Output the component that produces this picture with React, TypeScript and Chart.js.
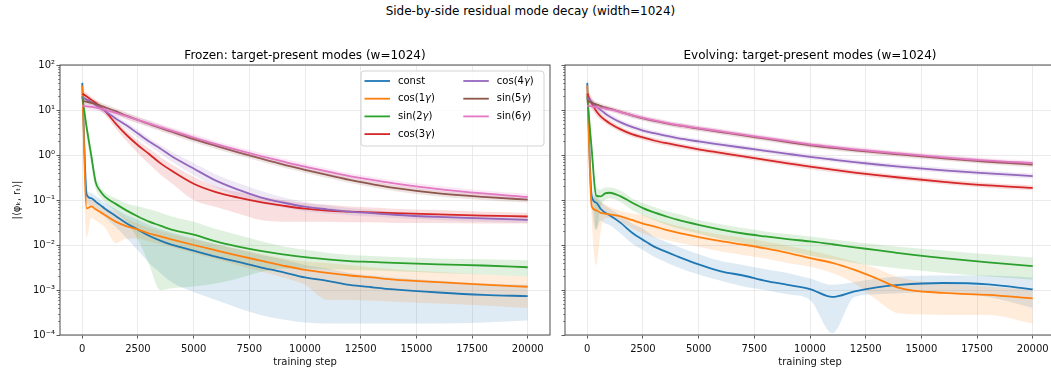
import React, { useEffect, useRef } from 'react';
import { Chart, registerables } from 'chart.js';

Chart.register(...registerables);

const FONT = "'DejaVu Sans', 'Liberation Sans', sans-serif";

// ---------- shared axes / categories ----------
const STEPS = [0, 200, 400, 600, 800, 1000, 1500, 2000, 2500, 3000, 3500, 4000, 5000, 6000, 7000, 8000, 9000, 10000, 11000, 12000, 13000, 14000, 16000, 18000, 20000];
const X_TICKS = [0, 2500, 5000, 7500, 10000, 12500, 15000, 17500, 20000];
const Y_TICKS = [1e-4, 1e-3, 1e-2, 1e-1, 1e0, 1e1, 1e2];
const Y_TICK_LABELS = ['10⁻⁴', '10⁻³', '10⁻²', '10⁻¹', '10⁰', '10¹', '10²'];
const Y_MINOR_MULTIPLIERS = [2, 3, 4, 5, 6, 7, 8, 9];
const SERIES_NAMES = ['const', 'cos(1γ)', 'sin(2γ)', 'cos(3γ)', 'cos(4γ)', 'sin(5γ)', 'sin(6γ)'];
const SERIES_COLORS = ['#1f77b4', '#ff7f0e', '#2ca02c', '#d62728', '#9467bd', '#8c564b', '#e377c2'];
const SUPTITLE = 'Side-by-side residual mode decay (width=1024)';
const FROZEN_TITLE = 'Frozen: target-present modes (w=1024)';
const EVOLVING_TITLE = 'Evolving: target-present modes (w=1024)';
const X_LABEL = 'training step';
const Y_LABEL = '|⟨φₖ, rₜ⟩|';

// ---------- Frozen panel ----------
const FROZEN_CONST = [40, 0.13, 0.11, 0.092, 0.078, 0.065, 0.044, 0.03, 0.022, 0.016, 0.0125, 0.0102, 0.0075, 0.0055, 0.0042, 0.0032, 0.0025, 0.0019, 0.0016, 0.0013, 0.00115, 0.00103, 0.00088, 0.00078, 0.00073];
const FROZEN_CONST_LO = [25, 0.09, 0.075, 0.062, 0.052, 0.042, 0.025, 0.014, 0.0075, 0.004, 0.0024, 0.0015, 0.0009, 0.0006, 0.0004, 0.00028, 0.00022, 0.00019, 0.00018, 0.00018, 0.00018, 0.00018, 0.00018, 0.00019, 0.00021];
const FROZEN_CONST_HI = [55, 0.17, 0.145, 0.122, 0.104, 0.088, 0.063, 0.046, 0.0365, 0.028, 0.0226, 0.0189, 0.0141, 0.0104, 0.008, 0.0061, 0.0048, 0.0036, 0.003, 0.0024, 0.0021, 0.0019, 0.0016, 0.0014, 0.0013];

const FROZEN_COS1 = [35, 0.065, 0.072, 0.062, 0.054, 0.047, 0.033, 0.026, 0.022, 0.018, 0.0155, 0.0133, 0.01, 0.0076, 0.0058, 0.0045, 0.0035, 0.0028, 0.0024, 0.0021, 0.0019, 0.0017, 0.0015, 0.00132, 0.00118];
const FROZEN_COS1_LO = [20, 0.015, 0.04, 0.035, 0.03, 0.025, 0.011, 0.014, 0.014, 0.012, 0.0105, 0.009, 0.0065, 0.0048, 0.0035, 0.0026, 0.0019, 0.0013, 0.0006, 0.0006, 0.00058, 0.00055, 0.0005, 0.00045, 0.0004];
const FROZEN_COS1_HI = [50, 0.115, 0.104, 0.089, 0.078, 0.069, 0.055, 0.038, 0.03, 0.024, 0.0205, 0.0176, 0.0135, 0.0104, 0.0081, 0.0064, 0.0051, 0.0043, 0.004, 0.0036, 0.0032, 0.0029, 0.0025, 0.0022, 0.002];

const FROZEN_SIN2 = [20, 4, 1.0, 0.25, 0.16, 0.12, 0.082, 0.058, 0.043, 0.033, 0.027, 0.022, 0.017, 0.012, 0.0092, 0.0074, 0.0062, 0.0054, 0.0048, 0.0044, 0.0042, 0.004, 0.0037, 0.0035, 0.0032];
const FROZEN_SIN2_LO = [14, 2.5, 0.6, 0.18, 0.12, 0.09, 0.055, 0.033, 0.013, 0.0037, 0.001, 0.0011, 0.0012, 0.0014, 0.0018, 0.0025, 0.003, 0.003, 0.0029, 0.0028, 0.0027, 0.0026, 0.0024, 0.0022, 0.002];
const FROZEN_SIN2_HI = [26, 5.5, 1.4, 0.34, 0.2, 0.15, 0.109, 0.083, 0.073, 0.062, 0.053, 0.043, 0.033, 0.0226, 0.0166, 0.0123, 0.0094, 0.0078, 0.0067, 0.006, 0.0057, 0.0054, 0.005, 0.0048, 0.0046];

const FROZEN_COS3 = [23, 20, 17, 14.5, 12, 9.8, 5.0, 2.75, 1.65, 1.05, 0.66, 0.45, 0.23, 0.15, 0.113, 0.09, 0.075, 0.064, 0.058, 0.055, 0.053, 0.051, 0.048, 0.045, 0.043];
const FROZEN_COS3_LO = [18, 16, 14, 11.8, 9.7, 8, 3.9, 2.0, 1.1, 0.63, 0.37, 0.24, 0.1, 0.07, 0.05, 0.036, 0.033, 0.033, 0.033, 0.032, 0.032, 0.031, 0.031, 0.03, 0.03];
const FROZEN_COS3_HI = [28, 24, 20, 17.2, 14.3, 11.6, 6.0, 3.4, 2.1, 1.4, 0.9, 0.62, 0.33, 0.2, 0.15, 0.12, 0.1, 0.085, 0.078, 0.072, 0.068, 0.064, 0.06, 0.055, 0.052];

const FROZEN_COS4 = [19, 17, 15, 13, 11.2, 9.6, 6.5, 4.5, 3.0, 2.0, 1.4, 0.95, 0.5, 0.27, 0.17, 0.115, 0.088, 0.071, 0.062, 0.055, 0.051, 0.047, 0.042, 0.039, 0.036];
const FROZEN_COS4_LO = [16, 14.5, 12.8, 11, 9.5, 8.1, 5.4, 3.7, 2.4, 1.6, 1.1, 0.72, 0.36, 0.19, 0.12, 0.085, 0.068, 0.056, 0.05, 0.046, 0.043, 0.04, 0.036, 0.033, 0.031];
const FROZEN_COS4_HI = [22, 19.5, 17.2, 15, 12.9, 11.1, 7.6, 5.3, 3.6, 2.4, 1.7, 1.2, 0.66, 0.37, 0.24, 0.16, 0.115, 0.09, 0.076, 0.066, 0.06, 0.055, 0.049, 0.045, 0.042];

const FROZEN_SIN5 = [16, 15.2, 14.4, 13.6, 12.6, 11.6, 9.4, 7.4, 6.0, 4.9, 4.0, 3.3, 2.25, 1.6, 1.15, 0.84, 0.62, 0.47, 0.36, 0.28, 0.225, 0.185, 0.14, 0.117, 0.102];
const FROZEN_SIN6 = [12.5, 12.1, 11.7, 11.3, 10.8, 10.2, 8.6, 7.2, 6.0, 5.0, 4.15, 3.5, 2.45, 1.75, 1.28, 0.95, 0.72, 0.55, 0.43, 0.34, 0.28, 0.235, 0.175, 0.14, 0.117];

// ---------- Evolving panel ----------
const EVOLVING_CONST = [40, 0.12, 0.088, 0.064, 0.052, 0.046, 0.031, 0.019, 0.013, 0.0092, 0.0072, 0.0057, 0.0037, 0.0026, 0.0021, 0.0016, 0.0013, 0.00105, 0.0007, 0.00093, 0.00115, 0.0013, 0.00143, 0.00133, 0.00103];
const EVOLVING_CONST_LO = [25, 0.09, 0.022, 0.035, 0.03, 0.028, 0.018, 0.011, 0.0077, 0.0055, 0.0042, 0.0033, 0.0022, 0.0016, 0.0012, 0.001, 0.0008, 0.0006, 0.00011, 0.0007, 0.0008, 0.00085, 0.0009, 0.0007, 0.0004];
const EVOLVING_CONST_HI = [70, 0.16, 0.12, 0.095, 0.075, 0.065, 0.045, 0.03, 0.023, 0.0155, 0.012, 0.0095, 0.0062, 0.0044, 0.0036, 0.0029, 0.0024, 0.0018, 0.0013, 0.0015, 0.0018, 0.002, 0.0021, 0.0021, 0.0019];

const EVOLVING_COS1 = [35, 0.072, 0.059, 0.052, 0.05, 0.048, 0.043, 0.036, 0.03, 0.026, 0.022, 0.019, 0.015, 0.0122, 0.0102, 0.0084, 0.0067, 0.0051, 0.004, 0.0028, 0.0018, 0.00112, 0.00086, 0.00078, 0.00065];
const EVOLVING_COS1_LO = [20, 0.04, 0.0036, 0.02, 0.04, 0.04, 0.032, 0.024, 0.018, 0.015, 0.013, 0.0115, 0.0092, 0.0072, 0.006, 0.005, 0.004, 0.0033, 0.0024, 0.0014, 0.0006, 0.0003, 0.00028, 0.00028, 0.00018];
const EVOLVING_COS1_HI = [50, 0.14, 0.11, 0.09, 0.08, 0.07, 0.058, 0.05, 0.046, 0.038, 0.032, 0.027, 0.021, 0.017, 0.0145, 0.012, 0.0096, 0.0075, 0.0058, 0.0043, 0.003, 0.0019, 0.0014, 0.0012, 0.001];

const EVOLVING_SIN2 = [20, 1.3, 0.125, 0.12, 0.14, 0.145, 0.12, 0.088, 0.066, 0.053, 0.044, 0.037, 0.028, 0.022, 0.018, 0.0155, 0.0135, 0.012, 0.0104, 0.0089, 0.0077, 0.0066, 0.0051, 0.0041, 0.0034];
const EVOLVING_SIN2_LO = [15, 0.8, 0.022, 0.07, 0.1, 0.11, 0.09, 0.06, 0.045, 0.036, 0.029, 0.024, 0.018, 0.0135, 0.011, 0.0088, 0.0074, 0.0058, 0.0048, 0.004, 0.0034, 0.003, 0.0024, 0.002, 0.0017];
const EVOLVING_SIN2_HI = [26, 1.8, 0.2, 0.17, 0.19, 0.19, 0.16, 0.11, 0.086, 0.07, 0.058, 0.05, 0.036, 0.029, 0.024, 0.02, 0.0175, 0.0155, 0.0135, 0.0117, 0.0103, 0.0092, 0.0075, 0.0062, 0.0053];

const EVOLVING_COS3 = [23, 14, 9.5, 7.2, 6.0, 5.1, 3.7, 2.9, 2.45, 2.1, 1.85, 1.65, 1.34, 1.117, 0.931, 0.78, 0.655, 0.55, 0.472, 0.407, 0.356, 0.316, 0.254, 0.211, 0.186];
const EVOLVING_COS4 = [19, 15, 12, 10, 8.4, 7.2, 5.3, 4.2, 3.5, 3.05, 2.7, 2.4, 2.0, 1.7, 1.45, 1.24, 1.06, 0.91, 0.794, 0.695, 0.615, 0.552, 0.457, 0.392, 0.34];
const EVOLVING_SIN5 = [16, 14.5, 13.3, 12.3, 11.4, 10.7, 9.0, 7.6, 6.5, 5.7, 5.1, 4.6, 3.85, 3.24, 2.72, 2.3, 1.94, 1.64, 1.445, 1.276, 1.14, 1.03, 0.847, 0.708, 0.61];
const EVOLVING_SIN6 = [12.5, 12, 11.6, 11.2, 10.8, 10.3, 9.0, 7.7, 6.7, 5.9, 5.25, 4.7, 3.95, 3.35, 2.84, 2.4, 2.03, 1.72, 1.51, 1.335, 1.195, 1.08, 0.89, 0.75, 0.665];

type Series = { mean: number[]; lo?: number[]; hi?: number[]; halo?: number };

const FROZEN_SERIES: Series[] = [
  { mean: FROZEN_CONST, lo: FROZEN_CONST_LO, hi: FROZEN_CONST_HI },
  { mean: FROZEN_COS1, lo: FROZEN_COS1_LO, hi: FROZEN_COS1_HI },
  { mean: FROZEN_SIN2, lo: FROZEN_SIN2_LO, hi: FROZEN_SIN2_HI },
  { mean: FROZEN_COS3, lo: FROZEN_COS3_LO, hi: FROZEN_COS3_HI },
  { mean: FROZEN_COS4, lo: FROZEN_COS4_LO, hi: FROZEN_COS4_HI },
  { mean: FROZEN_SIN5, halo: 6 },
  { mean: FROZEN_SIN6, halo: 6 },
];

const EVOLVING_SERIES: Series[] = [
  { mean: EVOLVING_CONST, lo: EVOLVING_CONST_LO, hi: EVOLVING_CONST_HI },
  { mean: EVOLVING_COS1, lo: EVOLVING_COS1_LO, hi: EVOLVING_COS1_HI },
  { mean: EVOLVING_SIN2, lo: EVOLVING_SIN2_LO, hi: EVOLVING_SIN2_HI },
  { mean: EVOLVING_COS3, halo: 5 },
  { mean: EVOLVING_COS4, halo: 5 },
  { mean: EVOLVING_SIN5, halo: 5 },
  { mean: EVOLVING_SIN6, halo: 5 },
];

function rgba(hex: string, a: number) {
  const n = parseInt(hex.slice(1), 16);
  return `rgba(${(n >> 16) & 255},${(n >> 8) & 255},${n & 255},${a})`;
}

function points(arr: number[]) {
  return STEPS.map((x, i) => ({ x, y: arr[i] }));
}

function buildDatasets(series: Series[]) {
  const ds: any[] = [];
  series.forEach((s, i) => {
    const color = SERIES_COLORS[i];
    if (s.lo && s.hi) {
      ds.push({ data: points(s.lo), borderWidth: 0, borderColor: 'rgba(0,0,0,0)', pointRadius: 0, fill: false, cubicInterpolationMode: 'monotone' });
      ds.push({ data: points(s.hi), borderWidth: 0, borderColor: 'rgba(0,0,0,0)', pointRadius: 0, fill: '-1', backgroundColor: rgba(color, 0.15), cubicInterpolationMode: 'monotone' });
    }
    if (s.halo) {
      ds.push({ data: points(s.mean), borderWidth: s.halo, borderColor: rgba(color, 0.16), pointRadius: 0, fill: false, cubicInterpolationMode: 'monotone' });
    }
    ds.push({ label: SERIES_NAMES[i], data: points(s.mean), borderWidth: 1.8, borderColor: color, pointRadius: 0, fill: false, cubicInterpolationMode: 'monotone' });
  });
  ds.forEach((d, idx) => { d.order = -idx; });
  return ds;
}

const framePlugin = {
  id: 'frame',
  afterDraw(chart: any) {
    const { ctx, chartArea: a } = chart;
    ctx.save();
    ctx.strokeStyle = '#3a3a3a';
    ctx.lineWidth = 0.9;
    ctx.strokeRect(a.left, a.top, a.right - a.left, a.bottom - a.top);
    const y = chart.scales.y;
    ctx.lineWidth = 0.6;
    for (let d = -4; d < 2; d++) {
      for (const m of Y_MINOR_MULTIPLIERS) {
        const py = Math.round(y.getPixelForValue(m * Math.pow(10, d))) + 0.5;
        ctx.beginPath();
        ctx.moveTo(a.left - 2, py);
        ctx.lineTo(a.left, py);
        ctx.stroke();
      }
    }
    ctx.restore();
  },
};

const titlePlugin = {
  id: 'panelTitle',
  afterDraw(chart: any, _args: any, opts: any) {
    const { ctx, chartArea: a } = chart;
    ctx.save();
    ctx.font = `12px ${FONT}`;
    ctx.fillStyle = '#000';
    ctx.textAlign = 'center';
    ctx.textBaseline = 'alphabetic';
    ctx.fillText(opts.text, (a.left + a.right) / 2, a.top - 6);
    ctx.restore();
  },
};

function drawLabel(ctx: any, text: string, x: number, y: number) {
  const parts = text.split('γ');
  let cx = x;
  parts.forEach((p, i) => {
    ctx.font = `10px ${FONT}`;
    ctx.fillText(p, cx, y);
    cx += ctx.measureText(p).width;
    if (i < parts.length - 1) {
      ctx.font = `oblique 10px ${FONT}`;
      ctx.fillText('γ', cx, y);
      cx += ctx.measureText('γ').width;
    }
  });
}

const legendPlugin = {
  id: 'boxLegend',
  afterDraw(chart: any, _args: any, opts: any) {
    if (!opts.show) return;
    const { ctx, chartArea: a } = chart;
    const w = 183, h = 75;
    const x0 = a.right - 6 - w;
    const y0 = a.top + 6;
    ctx.save();
    ctx.beginPath();
    const r = 3;
    ctx.moveTo(x0 + r, y0);
    ctx.arcTo(x0 + w, y0, x0 + w, y0 + h, r);
    ctx.arcTo(x0 + w, y0 + h, x0, y0 + h, r);
    ctx.arcTo(x0, y0 + h, x0, y0, r);
    ctx.arcTo(x0, y0, x0 + w, y0, r);
    ctx.closePath();
    ctx.fillStyle = 'rgba(255,255,255,0.8)';
    ctx.fill();
    ctx.strokeStyle = '#d3d3d3';
    ctx.lineWidth = 1;
    ctx.stroke();
    ctx.textBaseline = 'middle';
    ctx.textAlign = 'left';
    SERIES_NAMES.forEach((name, i) => {
      const col = i < 4 ? 0 : 1;
      const row = i < 4 ? i : i - 4;
      const cx = x0 + (col === 0 ? 3.5 : 102.3);
      const cy = y0 + 10 + row * 17.7;
      ctx.strokeStyle = SERIES_COLORS[i];
      ctx.lineWidth = 1.8;
      ctx.beginPath();
      ctx.moveTo(cx, cy);
      ctx.lineTo(cx + 25.5, cy);
      ctx.stroke();
      ctx.fillStyle = '#000';
      drawLabel(ctx, name, cx + 33.5, cy);
    });
    ctx.restore();
  },
};

function makeConfig(series: Series[], o: { title: string; yWidth: number; padRight: number; yLabels: boolean; legend: boolean }) {
  const gridColor = '#e6e6e6';
  return {
    type: 'line' as const,
    data: { datasets: buildDatasets(series) },
    plugins: [framePlugin, titlePlugin, legendPlugin],
    options: {
      animation: false,
      responsive: false,
      devicePixelRatio: 1,
      layout: { padding: { left: 0, right: o.padRight, top: 65, bottom: 0 } },
      plugins: {
        legend: { display: false },
        tooltip: { enabled: false },
        filler: { drawTime: 'beforeDatasetsDraw', propagate: false },
        panelTitle: { text: o.title },
        boxLegend: { show: o.legend },
      },
      scales: {
        x: {
          type: 'linear',
          min: -1000,
          max: 21000,
          afterBuildTicks: (s: any) => { s.ticks = X_TICKS.map((v) => ({ value: v })); },
          afterFit: (s: any) => { s.height = 39; },
          border: { display: false },
          grid: { color: gridColor, lineWidth: 0.8, drawTicks: true, tickLength: 3.5, tickColor: '#333', tickWidth: 0.8 },
          ticks: { font: { family: FONT, size: 10 }, color: '#111', padding: 5, maxRotation: 0, autoSkip: false, callback: (v: any) => String(v) },
          title: { display: true, text: X_LABEL, font: { family: FONT, size: 10, lineHeight: 1.2 }, color: '#111', padding: { top: 0, bottom: 6 } },
        },
        y: {
          type: 'logarithmic',
          min: 1e-4,
          max: 100,
          afterBuildTicks: (s: any) => { s.ticks = Y_TICKS.map((v) => ({ value: v, major: true })); },
          afterFit: (s: any) => { s.width = o.yWidth; },
          border: { display: false },
          grid: { color: gridColor, lineWidth: 0.8, drawTicks: true, tickLength: 3.5, tickColor: '#333', tickWidth: 0.8 },
          ticks: { font: { family: FONT, size: 10 }, color: '#111', padding: 1.5, autoSkip: false, callback: (_v: any, i: number) => (o.yLabels ? Y_TICK_LABELS[i] : '') },
          title: { display: o.yLabels, text: Y_LABEL, font: { family: FONT, size: 10, lineHeight: 1.2 }, color: '#111', padding: { top: 11, bottom: 0 } },
        },
      },
    },
  };
}

export default function App() {
  const leftRef = useRef<HTMLCanvasElement>(null);
  const rightRef = useRef<HTMLCanvasElement>(null);

  useEffect(() => {
    const left = new Chart(leftRef.current as HTMLCanvasElement, makeConfig(FROZEN_SERIES, { title: FROZEN_TITLE, yWidth: 60, padRight: 6, yLabels: true, legend: true }) as any);
    const right = new Chart(rightRef.current as HTMLCanvasElement, makeConfig(EVOLVING_SERIES, { title: EVOLVING_TITLE, yWidth: 12, padRight: 8, yLabels: false, legend: false }) as any);
    return () => { left.destroy(); right.destroy(); };
  }, []);

  return (
    <div style={{ position: 'fixed', left: 0, top: 0, width: 1051, height: 374, overflow: 'hidden', background: '#fff' }}>
      <div style={{ position: 'absolute', left: 0, top: 4, width: 1061, textAlign: 'center', fontFamily: FONT, fontSize: 12, lineHeight: '14px', color: '#000', whiteSpace: 'nowrap' }}>
        {SUPTITLE}
      </div>
      <canvas ref={leftRef} width={556} height={374} style={{ position: 'absolute', left: 0, top: 0 }} />
      <canvas ref={rightRef} width={510} height={374} style={{ position: 'absolute', left: 553, top: 0 }} />
    </div>
  );
}
